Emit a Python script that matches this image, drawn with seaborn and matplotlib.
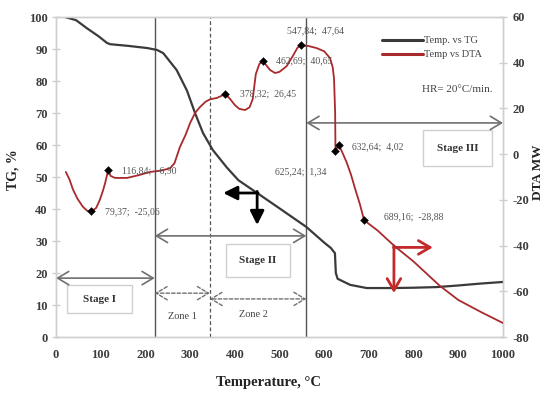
import numpy as np
import pandas as pd
import matplotlib
matplotlib.use("Agg")
import matplotlib.pyplot as plt
from matplotlib.lines import Line2D
from matplotlib.patches import Rectangle
import seaborn as sns

# ---------------- data ----------------
tg_temp = [20, 45, 69, 95, 114, 121, 160, 204, 226, 240, 270, 293, 311, 329, 351,
           382, 408, 450, 500, 560, 600, 615, 624, 626, 630, 658, 695, 750, 800,
           852, 900, 950, 1000]
tg_val = [100, 99, 96.5, 94, 91.9, 91.5, 91, 90.3, 89.7, 88.7, 83.4, 77, 70, 63.7, 58.4,
          53, 49, 45, 40.2, 34.4, 29.5, 27.8, 26.2, 20, 18.2, 16.3, 15.3, 15.3, 15.4,
          15.6, 16.1, 16.7, 17.2]

dta_temp = [22, 30, 38, 48, 60, 70, 79.37, 90, 98, 105, 110, 116.84, 122, 132, 159, 185,
            210, 235, 255, 265, 277, 290, 300, 311, 322, 335, 345, 360, 370, 378.32,
            390, 400, 410, 423, 433, 440, 447, 455, 462.69, 470, 479, 490, 500, 516,
            530, 540, 547.84, 565, 583, 600, 613, 619, 622, 624.5, 625.24, 628, 632.64,
            640, 650, 660, 670, 680, 689.16, 720, 756, 800, 858, 900, 950, 1000]
dta_val = [-7.8, -11, -15.5, -19.5, -23, -24.8, -25.06, -23.5, -20, -16, -12.6, -6.9, -9.5,
           -10.4, -10.4, -9.2, -7.8, -7.2, -6.2, -4, 3, 8.5, 13.6, 18, 20.6, 23, 24, 24.6,
           25.5, 26.45, 24, 21.5, 19.8, 19.3, 20.5, 24, 35, 39.5, 40.65, 39, 36.8, 35.5,
           36, 38.5, 43, 46.5, 47.64, 47.3, 46.4, 45, 42, 38, 33, 18, 1.34, 2.5, 4.02,
           1, -3.5, -9, -15.7, -22, -28.88, -33.5, -40, -47, -57.5, -63.8, -69, -73.9]

peak_temp = [79.37, 116.84, 378.32, 462.69, 547.84, 625.24, 632.64, 689.16]
peak_dta = [-25.06, -6.9, 26.45, 40.65, 47.64, 1.34, 4.02, -28.88]
peak_labels = ["79,37;  -25,06", "116,84;  -6,90", "378,32;  26,45", "462,69;  40,65",
               "547,84;  47,64", "625,24;  1,34", "632,64;  4,02", "689,16;  -28,88"]

stage_labels = ["Stage I", "Stage II", "Stage III"]
zone_labels = ["Zone 1", "Zone 2"]
legend_labels = ["Temp. vs TG", "Temp vs DTA"]
x_ticks = list(range(0, 1001, 100))
tg_ticks = list(range(0, 101, 10))
dta_ticks = list(range(-80, 61, 20))

tg_df = pd.DataFrame({"Temperature": tg_temp, "TG": tg_val})
dta_df = pd.DataFrame({"Temperature": dta_temp, "DTA": dta_val})
peak_df = pd.DataFrame({"Temperature": peak_temp, "DTA": peak_dta})

# ---------------- style ----------------
sns.set_theme(style="white")
plt.rcParams["font.family"] = ["Liberation Serif", "DejaVu Serif"]
plt.rcParams["axes.unicode_minus"] = False

BLACK = "#3a3a3a"
RED = "#a82a2c"
ARROW_RED = "#c42a2a"
GRAY = "#707070"
SPINE = "#cfcfcf"
TICKC = "#3c3c3c"

fig = plt.figure(figsize=(5.44, 3.96), dpi=100)
ax = fig.add_axes([56 / 544, (396 - 337) / 396, 447 / 544, 320 / 396])
ax2 = ax.twinx()

ax.set_xlim(0, 1000)
ax.set_ylim(0, 100)
ax2.set_ylim(-80, 60)

# vertical stage separators
ax.axvline(221, color="#555555", lw=1.0, zorder=1)
ax.axvline(344, color="#555555", lw=0.9, ls=(0, (3, 2)), zorder=1)
ax.axvline(560, color="#555555", lw=1.0, zorder=1)

# curves
sns.lineplot(data=tg_df, x="Temperature", y="TG", ax=ax, color=BLACK, lw=1.6,
             sort=False, estimator=None, zorder=3)
sns.lineplot(data=dta_df, x="Temperature", y="DTA", ax=ax2, color=RED, lw=1.3,
             sort=False, estimator=None, zorder=3)
sns.scatterplot(data=peak_df, x="Temperature", y="DTA", ax=ax2, color="black",
                marker="D", s=16, edgecolor="black", zorder=4)

# peak labels
offsets = [(14, 0, "left"), (14, -1, "left"), (15, 0, "left"), (13, 0, "left"),
           (15, 14, "center"), (-9, -21, "right"), (13, -2, "left"), (20, 3, "left")]
for t, d, lab, (dx, dy, ha) in zip(peak_temp, peak_dta, peak_labels, offsets):
    ax2.annotate(lab, xy=(t, d), xytext=(dx, dy), textcoords="offset pixels",
                 ha=ha, va="center", fontsize=7, color="#555555", zorder=5)

# stage double arrows
stage_arrow = dict(arrowstyle="<->,head_length=0.5,head_width=0.3", color=GRAY, lw=1.2,
                   shrinkA=0, shrinkB=0, mutation_scale=16)
zone_arrow = dict(arrowstyle="<->,head_length=0.5,head_width=0.3", color=GRAY, lw=1.0,
                  ls=(0, (2.5, 1.5)), shrinkA=0, shrinkB=0, mutation_scale=16)
ax.annotate("", xy=(0, 18.4), xytext=(221, 18.4), arrowprops=stage_arrow)
ax.annotate("", xy=(221, 31.6), xytext=(560, 31.6), arrowprops=stage_arrow)
ax.annotate("", xy=(560, 66.9), xytext=(1000, 66.9), arrowprops=stage_arrow)
ax.annotate("", xy=(221, 13.7), xytext=(344, 13.7), arrowprops=zone_arrow)
ax.annotate("", xy=(344, 11.9), xytext=(560, 11.9), arrowprops=zone_arrow)

# stage boxes
boxes = [(25, 7.5, 145, 8.75), (380, 18.75, 143, 10.25), (821, 53.4, 154, 11.3)]
for (bx, by, bw, bh), lab in zip(boxes, stage_labels):
    ax.add_patch(Rectangle((bx, by), bw, bh, fill=True, facecolor="white",
                           edgecolor=SPINE, lw=1.0, zorder=2))
    ax.text(bx + bw / 2, by + bh / 2, lab, ha="center", va="center", fontsize=8,
            fontweight="bold", color="#333333", zorder=3)

ax.text(283, 6.3, zone_labels[0], ha="center", va="center", fontsize=7.5, color="#444444")
ax.text(441, 6.9, zone_labels[1], ha="center", va="center", fontsize=7.5, color="#444444")

# black arrows (TG axis)
blk = dict(arrowstyle="-|>,head_length=0.6,head_width=0.3", color="black", lw=2.0,
           shrinkA=0, shrinkB=0, mutation_scale=14)
ax.annotate("", xy=(374, 45), xytext=(452, 45), arrowprops=blk, zorder=5)
ax.annotate("", xy=(450, 35), xytext=(450, 45.5), arrowprops=blk, zorder=5)

# red arrows
red = dict(arrowstyle="->,head_length=0.6,head_width=0.35", color=ARROW_RED, lw=2.0,
           shrinkA=0, shrinkB=0, mutation_scale=14)
ax.annotate("", xy=(843, 28), xytext=(755, 28), arrowprops=red, zorder=5)
ax.annotate("", xy=(756, 13.75), xytext=(756, 28.5), arrowprops=red, zorder=5)

# legend
handles = [Line2D([], [], color=BLACK, lw=2.2), Line2D([], [], color=RED, lw=2.2)]
leg = ax2.legend(handles, legend_labels, loc="upper left",
                 bbox_to_anchor=((382 - 56) / 447, (337 - 36) / 320), frameon=False,
                 fontsize=7.5, handlelength=3.9, handletextpad=0.1, labelspacing=0.45,
                 borderaxespad=0, borderpad=0)
for txt in leg.get_texts():
    txt.set_color("#444444")

ax.text(819, 77.2, "HR= 20°C/min.", ha="left", va="center", fontsize=8, color="#444444")

# axes styling
ax.set_xticks(x_ticks)
ax.set_yticks(tg_ticks)
ax2.set_yticks(dta_ticks)
for a in (ax, ax2):
    for s in a.spines.values():
        s.set_color(SPINE)
        s.set_linewidth(1.0)
    a.tick_params(axis="both", which="major", direction="inout", length=6, width=1,
                  color=SPINE, labelsize=9, labelcolor=TICKC, pad=2)
    for lab in a.get_xticklabels() + a.get_yticklabels():
        lab.set_fontweight("bold")
ax.tick_params(axis="x", pad=6)
ax.tick_params(axis="y", pad=3)
ax2.tick_params(axis="y", pad=4)
ax.grid(False)
ax2.grid(False)

ax.set_xlabel("Temperature, °C", fontsize=10.5, fontweight="bold", color="#222222")
ax.xaxis.set_label_coords((269 - 56) / 447, (337 - 376) / 320)
ax.set_ylabel("TG, %", fontsize=10, fontweight="bold", color="#222222")
ax.yaxis.set_label_coords((20 - 56) / 447, (337 - 170) / 320)
ax2.set_ylabel("DTA MW", fontsize=9.5, fontweight="bold", color="#222222", rotation=90)
ax2.yaxis.set_label_coords((532 - 56) / 447, (337 - 172) / 320)

fig.savefig("out.png", dpi=100)
